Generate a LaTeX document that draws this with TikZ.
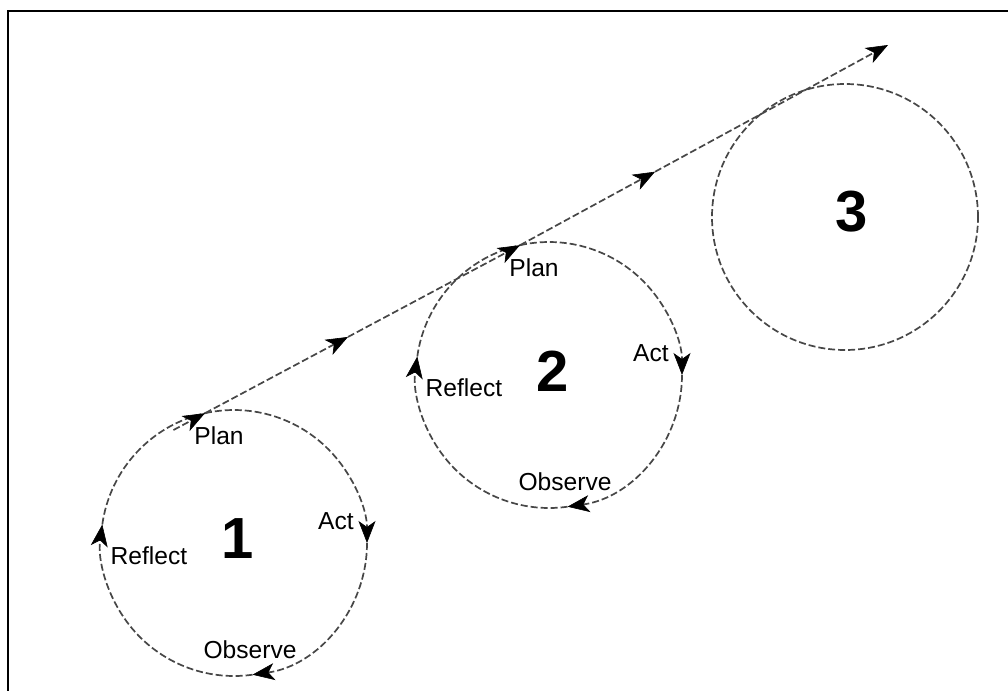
\documentclass[tikz,border=0pt]{standalone}
\usepackage{fontspec}
\setmainfont{Liberation Sans}
\usetikzlibrary{arrows.meta,calc}

\begin{document}
\begin{tikzpicture}[x=0.5pt,y=0.5pt,
		loop/.style={draw=black!72, line width=0.85pt, dash pattern=on 3.5pt off 1.5pt},
		tip/.style={-{Stealth[length=11pt,width=8.5pt,inset=3pt,black,line width=0.3pt]}},
		lbl/.style={font=\fontsize{12.3}{14}\selectfont, inner sep=0pt},
		num/.style={font=\bfseries\fontsize{29}{30}\selectfont, inner sep=0pt}]
		\useasboundingbox (0,0) rectangle (1008,-691);
		\draw[line width=1pt] (8,-691) -- (8,-11) -- (1008,-11);
		
		% centres of the cycles
		\coordinate (c1) at (234,-543);
		\coordinate (c2) at (549,-375);
		\coordinate (c3) at (845,-217);
		
		\foreach \n in {1,2}{
			\coordinate (plan\n) at ($(c\n)+(102.6:133)$);
			\coordinate (act\n) at ($(c\n)+(0:133)$);
			\coordinate (obs\n) at ($(c\n)+(-82:133)$);
			\coordinate (refl\n) at ($(c\n)+(172:133)$);
			\draw[loop,tip] (plan\n) arc[start angle=102.6, end angle=0, radius=133];
			\draw[loop,tip] (act\n) arc[start angle=0, end angle=-82, radius=133];
			\draw[loop,tip] (obs\n) arc[start angle=-82, end angle=-188, radius=133];
			\draw[loop] (refl\n) arc[start angle=172, end angle=102.6, radius=133];
			\node[lbl] (planlbl\n) at ($(c\n)+(-15,107)$) {Plan};
			\node[lbl] (actlbl\n) at ($(c\n)+(102,22)$) {Act};
			\node[lbl] (refllbl\n) at ($(c\n)+(-85,-13)$) {Reflect};
			\node[lbl] (obslbl\n) at ($(c\n)+(16,-107)$) {Observe};
			\node[num] (num\n) at ($(c\n)+(4,4)$) {\n};
		}
		\draw[loop] (c3) circle[radius=133];
		\node[num] (num3) at ($(c3)+(7,5)$) {3};
		
		% path through the cycles
		\coordinate (start) at ($(plan1)!-0.1!(plan2)$);
		\coordinate (mid1) at ($(plan1)!0.454!(plan2)$);
		\coordinate (goal) at (888,-45);
		\coordinate (mid2) at ($(plan2)!0.367!(goal)$);
		\draw[loop,tip] (start) -- (plan1);
		\draw[loop,tip] (plan1) -- (mid1);
		\draw[loop,tip] (mid1) -- (plan2);
		\draw[loop,tip] (plan2) -- (mid2);
		\draw[loop,tip] (mid2) -- (goal);
	\end{tikzpicture}
\end{document}
